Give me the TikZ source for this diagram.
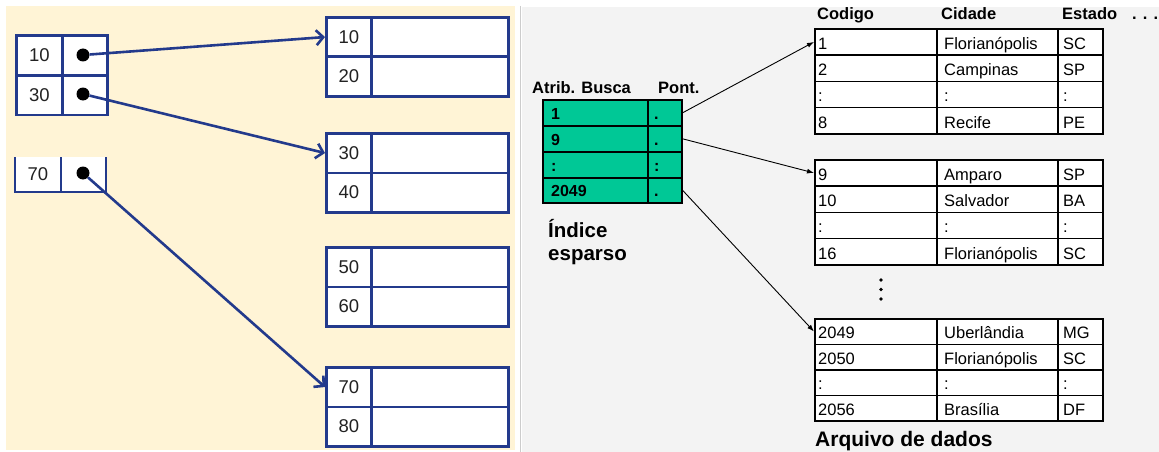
\documentclass[tikz,border=0pt]{standalone}
\usepackage{fontspec}
\setmainfont{Liberation Sans}
\usetikzlibrary{arrows.meta}
\definecolor{cream}{HTML}{FFF4D6}
\definecolor{lblue}{HTML}{233A8C}
\definecolor{igreen}{HTML}{00C896}
\definecolor{panelgray}{HTML}{F3F3F3}
\definecolor{ltext}{HTML}{222222}
\newcommand\drow[6]{%
  \node[dcell, minimum width=122, minimum height=#3] (#1a) at (814,#2) {};
  \node[dcell, minimum width=121, minimum height=#3] (#1b) at (936,#2) {};
  \node[dcell, minimum width=45, minimum height=#3] (#1c) at (1057,#2) {};
  \node[dtext] (#1ta) at (818,{#2+#3-5}) {#4};
  \node[dtext] (#1tb) at (944,{#2+#3-5}) {#5};
  \node[dtext] (#1tc) at (1063,{#2+#3-5}) {#6};
}
\newcommand\irow[5]{%
  \node[icell, minimum width=105, minimum height=#3] (#1k) at (542,#2) {};
  \node[icell, minimum width=34, minimum height=#3] (#1p) at (647,#2) {};
  \node[itext] (#1tk) at (551,{#2+#3-6}) {#4};
  \node[itext] (#1tp) at (654,{#2+#3-6}) {#5};
}
\newcommand\lblock[4]{%
  \node[lcell, minimum width=45] (#1a) at (325,#2) {#3};
  \node[lcell, minimum width=137] (#1b) at (370,#2) {};
  \node[lcell, minimum width=45] (#1c) at (325,{#2+39.5}) {#4};
  \node[lcell, minimum width=137] (#1d) at (370,{#2+39.5}) {};
}
\begin{document}
\begin{tikzpicture}[x=1pt,y=-1pt,
  lcell/.style={draw=lblue, line width=2.6pt, fill=white, minimum height=39.5, inner sep=0pt, anchor=north west, text=ltext, font=\fontsize{18.5}{20}\selectfont},
  dotnode/.style={circle, fill=black, minimum size=13, inner sep=0pt},
  blarrow/.style={draw=lblue, line width=2.6pt, -{Straight Barb[length=7pt,width=15pt]}},
  dcell/.style={draw=black, line width=1.6pt, fill=white, inner sep=0pt, anchor=north west},
  dtext/.style={anchor=base west, inner sep=0pt, font=\fontsize{16.5}{19}\selectfont},
  icell/.style={draw=black, line width=1.6pt, fill=igreen, inner sep=0pt, anchor=north west},
  itext/.style={anchor=base west, inner sep=0pt, font=\fontsize{16}{19}\selectfont\bfseries},
  hdr/.style={anchor=base west, inner sep=0pt, font=\fontsize{16.5}{19}\selectfont\bfseries},
  captext/.style={anchor=base west, inner sep=0pt, font=\fontsize{20.5}{24}\selectfont\bfseries},
  blkarrow/.style={draw=black, line width=0.9pt, -{Latex[length=7pt,width=5pt]}}
]
\useasboundingbox (0,0) rectangle (1159,452);
\fill[white] (0,0) rectangle (1159,452);
% left panel
\fill[cream] (6,6) rectangle (515,450);
\draw[gray!40, line width=1pt] (520,6) -- (520,452);
% index boxes
\node[lcell, minimum width=46, minimum height=40] (k1) at (15,34) {10};
\node[lcell, minimum width=45, minimum height=40] (p1) at (61,34) {};
\node[lcell, minimum width=46] (k2) at (15,74) {30};
\node[lcell, minimum width=45] (p2) at (61,74) {};
\fill[white] (15,157) rectangle (106,192);
\draw[lblue, line width=2.6pt] (15,157) -- (15,192) -- (106,192) -- (106,157) (61,157) -- (61,192);
\node[text=ltext, font=\fontsize{18.5}{20}\selectfont] (k3) at (38,174.5) {70};
\node[dotnode] (d1) at (83,55) {};
\node[dotnode] (d2) at (83,94) {};
\node[dotnode] (d3) at (83,173) {};
% data blocks
\lblock{b1}{16}{10}{20}
\lblock{b2}{132}{30}{40}
\lblock{b3}{246}{50}{60}
\lblock{b4}{366}{70}{80}
\draw[blarrow] (d1) -- (b1a.west);
\draw[blarrow] (d2) -- (b2a.west);
\draw[blarrow] (d3) -- (b4a.west);
% right panel
\fill[panelgray] (522,7) rectangle (1159,452);
\node[hdr] (h1) at (532,93) {Atrib. Busca};
\node[hdr] (h2) at (658,93) {Pont.};
\irow{i1}{99}{26}{1}{.}
\irow{i2}{125}{26}{9}{.}
\irow{i3}{151}{26}{:}{:}
\irow{i4}{177}{25}{2049}{.}
\node[captext] (c1) at (548,237) {Índice};
\node[captext] (c2) at (548,260) {esparso};
\node[hdr] (hc) at (817,20) {Codigo};
\node[hdr] (hd) at (941,20) {Cidade};
\node[hdr] (he) at (1062,20) {Estado};
\node[hdr] (hx) at (1132,20) {. . .};
\drow{ta}{28}{26.25}{1}{Florianópolis}{SC}
\drow{tb}{54.25}{26.25}{2}{Campinas}{SP}
\drow{tc}{80.5}{26.25}{:}{:}{:}
\drow{td}{106.75}{26.25}{8}{Recife}{PE}
\drow{ua}{159}{26.25}{9}{Amparo}{SP}
\drow{ub}{185.25}{26.25}{10}{Salvador}{BA}
\drow{uc}{211.5}{26.25}{:}{:}{:}
\drow{ud}{237.75}{26.25}{16}{Florianópolis}{SC}
\drow{va}{318}{25.5}{2049}{Uberlândia}{MG}
\drow{vb}{343.5}{25.5}{2050}{Florianópolis}{SC}
\drow{vc}{369}{25.5}{:}{:}{:}
\drow{vd}{394.5}{25.5}{2056}{Brasília}{DF}
\fill[black] (881,280) circle (1.8) (881,289.5) circle (1.8) (881,299) circle (1.8);
\node[captext, font=\fontsize{21}{24}\selectfont\bfseries] (c3) at (815,446.5) {Arquivo de dados};
\draw[blkarrow] (i1p.east) -- (taa.west);
\draw[blkarrow] (i2p.east) -- (uaa.west);
\draw[blkarrow] (i4p.east) -- (vaa.west);
\end{tikzpicture}
\end{document}
